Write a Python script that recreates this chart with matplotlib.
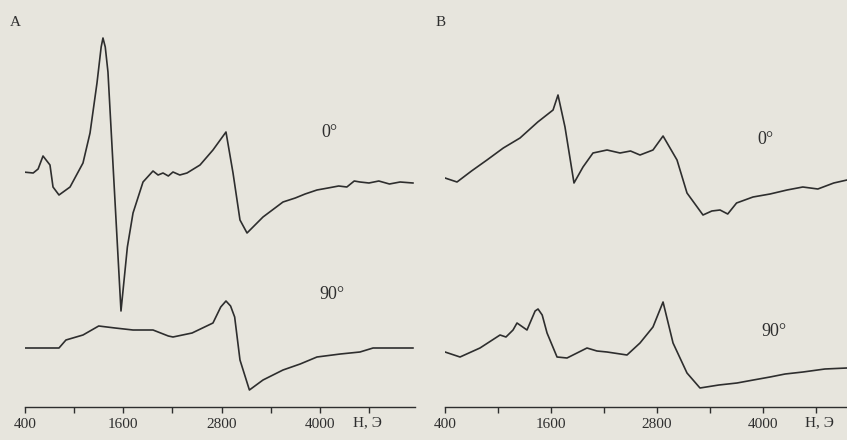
import matplotlib.pyplot as plt

# field values (Oe) and signal (arbitrary units)
# panel A, 0 deg
hA0 = [375, 500, 560, 620, 705, 742, 815, 950, 1108, 1194, 1279, 1330, 1352,
       1380, 1413, 1572, 1650, 1719, 1841, 1963, 2025, 2085, 2150, 2207, 2290,
       2378, 2537, 2695, 2854, 2940, 3025, 3111, 3306, 3420, 3550, 3700, 3820,
       3965, 4100, 4230, 4330, 4420, 4490, 4600, 4720, 4850, 4980, 5137]
iA0 = [235, 234, 238, 251, 242, 220, 212, 220, 244, 274, 324, 360, 369,
       360, 335, 96, 160, 194, 225, 236, 232, 234, 231, 235, 232,
       234, 242, 257, 275, 234, 187, 174, 190, 197, 205, 209, 213,
       217, 219, 221, 220, 226, 225, 224, 226, 223, 225, 224]

# panel A, 90 deg
hA90 = [375, 600, 815, 900, 1108, 1300, 1500, 1719, 1963, 2150, 2207, 2440,
        2695, 2790, 2854, 2910, 2960, 3025, 3140, 3306, 3550, 3760, 3965,
        4250, 4490, 4650, 5137]
iA90 = [59, 59, 59, 67, 72, 81, 79, 77, 77, 71, 70, 74,
        84, 100, 106, 101, 90, 47, 17, 27, 37, 43, 50,
        53, 55, 59, 59]

# panel B, 0 deg
hB0 = [400, 536, 700, 875, 1060, 1249, 1450, 1623, 1679, 1758, 1860, 1962,
       2075, 2234, 2381, 2500, 2607, 2754, 2868, 3026, 3139, 3320, 3420, 3513,
       3600, 3700, 3886, 4079, 4271, 4450, 4620, 4800, 4950]
iB0 = [229, 225, 236, 247, 259, 269, 285, 297, 312, 280, 224, 240,
       254, 257, 254, 256, 252, 257, 271, 247, 214, 192, 196, 197,
       193, 204, 210, 213, 217, 220, 218, 224, 227]

# panel B, 90 deg
hB90 = [400, 570, 796, 1023, 1090, 1170, 1215, 1328, 1420, 1453, 1500, 1555,
        1668, 1781, 2007, 2120, 2234, 2460, 2607, 2754, 2868, 2981, 3139, 3286,
        3500, 3705, 3890, 4079, 4250, 4452, 4700, 4950]
iB90 = [55, 50, 59, 72, 70, 77, 84, 77, 96, 98, 92, 74,
        50, 49, 59, 56, 55, 52, 64, 80, 105, 64, 34, 19,
        22, 24, 27, 30, 33, 35, 38, 39]

major = [400, 1600, 2800, 4000]
minor = [1000, 2200, 3400, 4600]

W, H = 847, 440
bg = '#e7e5dd'
ink = '#2e2e2e'
fig = plt.figure(figsize=(W / 100, H / 100), dpi=100, facecolor=bg)


def panel(left_px, right_px, xmax, curves):
    ax = fig.add_axes([left_px / W, (H - 407) / H, (right_px - left_px) / W, 407 / H])
    ax.set_facecolor(bg)
    for h, s in curves:
        ax.plot(h, s, color=ink, lw=1.2)
    ax.set_xlim(400, xmax)
    ax.set_ylim(0, 407)
    for sp in ['top', 'left', 'right']:
        ax.spines[sp].set_visible(False)
    ax.spines['bottom'].set_color(ink)
    ax.spines['bottom'].set_linewidth(1.0)
    ax.set_yticks([])
    ax.set_xticks(major)
    ax.set_xticks(minor, minor=True)
    ax.tick_params(axis='x', which='both', direction='out', length=4,
                   color=ink, width=1.0, labelsize=11, labelcolor=ink, pad=4)
    for t in ax.get_xticklabels():
        t.set_family('Liberation Serif')
    return ax


axA = panel(25, 415, 5162, [(hA0, iA0), (hA90, iA90)])
axB = panel(445, 847, 4950, [(hB0, iB0), (hB90, iB90)])

txt = dict(color=ink, family='Liberation Serif', fontsize=11)
deg = dict(color=ink, family='Liberation Serif', fontsize=13)
fig.text(353 / W, 1 - 423 / H, 'H, Э', va='center', ha='left', **txt)
fig.text(805 / W, 1 - 423 / H, 'H, Э', va='center', ha='left', **txt)
fig.text(10 / W, 1 - 23 / H, 'A', va='center', ha='left', **txt)
fig.text(436 / W, 1 - 22 / H, 'B', va='center', ha='left', **txt)
fig.text(321 / W, 1 - 132 / H, '0°', va='center', ha='left', **deg)
fig.text(319 / W, 1 - 294 / H, '90°', va='center', ha='left', **deg)
fig.text(757 / W, 1 - 140 / H, '0°', va='center', ha='left', **deg)
fig.text(761 / W, 1 - 332 / H, '90°', va='center', ha='left', **deg)

fig.savefig('out.png', dpi=100, facecolor=bg)
